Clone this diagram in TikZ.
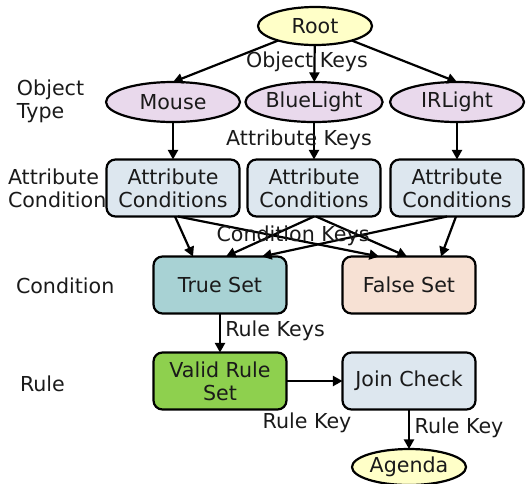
\documentclass[tikz,border=0pt]{standalone}
\usepackage{fontspec}
\setmainfont{DejaVu Sans}
\usetikzlibrary{arrows.meta,calc,shapes.geometric}
\definecolor{cyellow}{HTML}{FFFFC8}
\definecolor{clav}{HTML}{E9D9EC}
\definecolor{cblue}{HTML}{DDE7EF}
\definecolor{cteal}{HTML}{A8D2D4}
\definecolor{cpeach}{HTML}{F7E1D4}
\definecolor{cgreen}{HTML}{8ED04E}
\definecolor{ctext}{HTML}{1A1A1A}
\begin{document}
\begin{tikzpicture}[x=0.5pt,y=-0.5pt,
  font=\fontsize{10.3pt}{11.6pt}\selectfont, text=ctext,
  every node/.style={inner sep=0pt, outer sep=0pt},
  ell/.style={ellipse, draw=black, line width=1.1pt, minimum width=67pt, minimum height=20pt},
  rootell/.style={ell, minimum width=57pt, minimum height=19pt, fill=cyellow},
  objell/.style={ell, fill=clav},
  rbox/.style={rectangle, rounded corners=4.5pt, draw=black, line width=1.1pt, minimum width=66.5pt, minimum height=28.5pt, align=center},
  lbl/.style={align=left, anchor=west},
  edge/.style={line width=1.1pt, -{Triangle[length=4.8pt,width=5pt]}}]
\useasboundingbox (0,0) rectangle (528,483);

% nodes
\node[rootell] (Root) at (315,26) {Root};
\node[objell] (Mouse) at (173,102) {Mouse};
\node[objell] (Blue) at (314,102) {BlueLight};
\node[objell] (IR) at (457,102) {IRLight};
\node[rbox, fill=cblue] (AC1) at (173,188) {Attribute\\Conditions};
\node[rbox, fill=cblue] (AC2) at (314,188) {Attribute\\Conditions};
\node[rbox, fill=cblue] (AC3) at (457,188) {Attribute\\Conditions};
\node[rbox, fill=cteal] (True) at (220,285) {True Set};
\node[rbox, fill=cpeach] (False) at (409,285) {False Set};
\node[rbox, fill=cgreen] (Valid) at (220,381) {Valid Rule\\Set};
\node[rbox, fill=cblue] (Join) at (409,381) {Join Check};
\node[rootell, minimum height=18pt] (Agenda) at (409,467) {Agenda};

% left labels
\node[lbl] (LObj) at (17,101) {Object\\Type};
\node[lbl] (LAttr) at (8,188) {Attribute\\Condition};
\node[lbl] (LCond) at (16,286) {Condition};
\node[lbl] (LRule) at (20,384) {Rule};

% edges
\draw[edge] (Root) -- (Mouse.north);
\draw[edge] (Root) -- (Blue);
\draw[edge] (Root) -- (IR.north);
\draw[edge] (Mouse) -- (AC1);
\draw[edge] (Blue) -- (AC2);
\draw[edge] (IR) -- (AC3);
\draw[edge] ($(AC1.south)+(2,0)$) -- ($(True.north)+(-27,0)$);
\draw[edge] ($(AC1.south)+(5,0)$) -- ($(False.north)+(-30,0)$);
\draw[edge] (AC2.south) -- ($(True.north)+(6,0)$);
\draw[edge] ($(AC2.south)+(2,0)$) -- ($(False.north)+(-2,0)$);
\draw[edge] ($(AC3.south)+(-10,0)$) -- ($(True.north)+(42,0)$);
\draw[edge] ($(AC3.south)+(-1,0)$) -- ($(False.north)+(32,0)$);
\draw[edge] (True) -- (Valid);
\draw[edge] (Valid) -- (Join);
\draw[edge] (Join) -- (Agenda);

% edge labels
\node (KObj) at (307,62) {Object Keys};
\node (KAttr) at (299,140) {Attribute Keys};
\node (KCond) at (293,236) {Condition Keys};
\node (KRules) at (275,331) {Rule Keys};
\node (KRule1) at (307,423) {Rule Key};
\node (KRule2) at (459,428) {Rule Key};
\end{tikzpicture}
\end{document}
